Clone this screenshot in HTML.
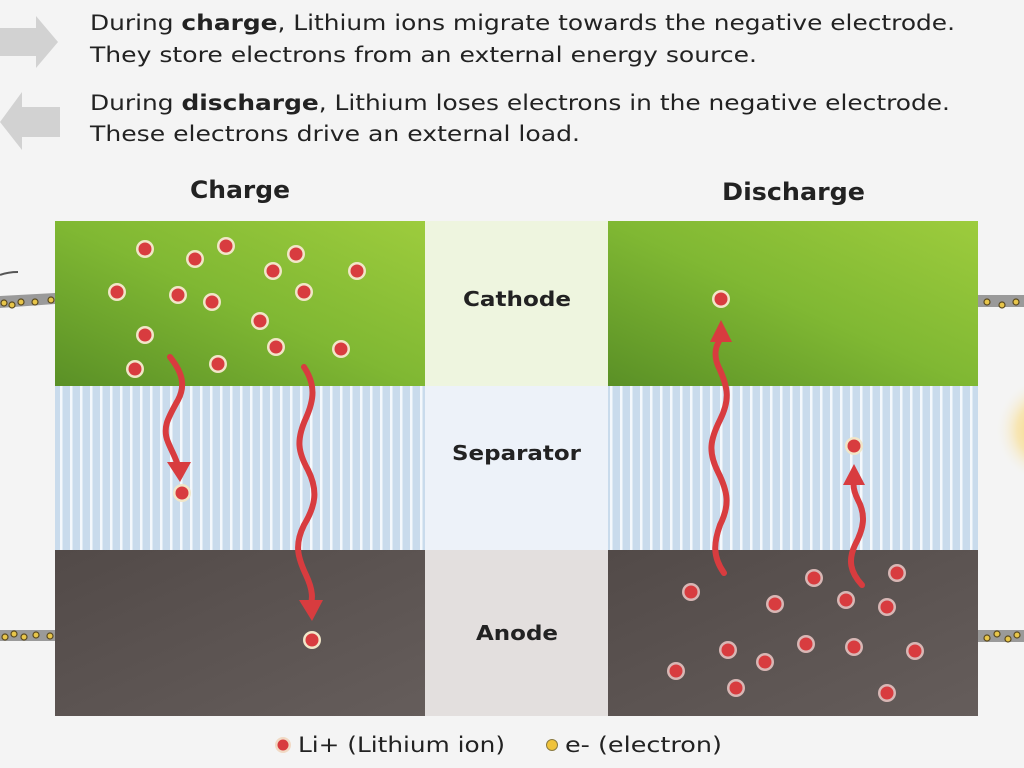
<!DOCTYPE html>
<html><head><style>
html,body{margin:0;padding:0;background:#f4f4f4;}
body{width:1024px;height:768px;overflow:hidden;position:relative;font-family:"DejaVu Sans","Liberation Sans",sans-serif;}
</style></head><body>
<svg width="1024" height="768" viewBox="0 0 1024 768" xmlns="http://www.w3.org/2000/svg" style="position:absolute;left:0;top:0" font-family="DejaVu Sans, Liberation Sans, sans-serif">
<defs>
<linearGradient id="gc" x1="0" y1="1" x2="1" y2="0">
<stop offset="0" stop-color="#5a9026"/><stop offset="0.5" stop-color="#80b833"/><stop offset="1" stop-color="#9dcc3d"/>
</linearGradient>
<linearGradient id="ga" x1="0" y1="0" x2="1" y2="1">
<stop offset="0" stop-color="#524a48"/><stop offset="1" stop-color="#655d5b"/>
</linearGradient>
<pattern id="st" width="10" height="10" patternUnits="userSpaceOnUse">
<rect width="10" height="10" fill="#c9dbec"/><rect x="0" width="2.5" height="10" fill="#f4f8fc"/>
</pattern>
<radialGradient id="sun" cx="0.5" cy="0.5" r="0.5">
<stop offset="0" stop-color="#f7c84a"/><stop offset="0.6" stop-color="#f9dc8a" stop-opacity="0.6"/><stop offset="1" stop-color="#f4f4f4" stop-opacity="0"/>
</radialGradient>
<g id="ion"><circle r="9" fill="#f1e6c8"/><circle r="6.5" fill="#d83c3f"/></g>
<g id="iona"><circle r="9" fill="#d8b7b5"/><circle r="6.5" fill="#d83c3f"/></g>
</defs>

<polygon points="0,28 36,28 36,16 58,42 36,68 36,56 0,56" fill="#d2d2d2"/>
<polygon points="60,107 22,107 22,92 0,122 22,150 22,137 60,137" fill="#d2d2d2"/>

<g font-size="21" fill="#222">
<text x="90" y="30" textLength="865" lengthAdjust="spacingAndGlyphs">During <tspan font-weight="bold">charge</tspan>, Lithium ions migrate towards the negative electrode.</text>
<text x="90" y="62" textLength="667" lengthAdjust="spacingAndGlyphs">They store electrons from an external energy source.</text>
<text x="90" y="110" textLength="860" lengthAdjust="spacingAndGlyphs">During <tspan font-weight="bold">discharge</tspan>, Lithium loses electrons in the negative electrode.</text>
<text x="90" y="141" textLength="490" lengthAdjust="spacingAndGlyphs">These electrons drive an external load.</text>
</g>
<text x="190" y="198" font-size="24" font-weight="bold" fill="#222" textLength="100" lengthAdjust="spacingAndGlyphs">Charge</text>
<text x="722" y="200" font-size="24" font-weight="bold" fill="#222" textLength="143" lengthAdjust="spacingAndGlyphs">Discharge</text>

<circle cx="1050" cy="430" r="55" fill="url(#sun)"/>

<g fill="#9a9a9a">
<path d="M0,296 L55,293 L55,304 L0,308Z"/>
<rect x="0" y="630" width="55" height="11"/>
<rect x="978" y="295" width="46" height="12"/>
<rect x="978" y="630" width="46" height="12"/>
</g>
<path d="M0,275 Q8,272 18,272" stroke="#555" stroke-width="2" fill="none"/>
<g fill="#e8c64a" stroke="#5a4a20" stroke-width="1.2">
<circle cx="4" cy="303" r="3"/><circle cx="12" cy="305" r="3"/><circle cx="21" cy="302" r="3"/><circle cx="35" cy="302" r="3"/><circle cx="51" cy="300" r="3"/>
<circle cx="5" cy="637" r="3"/><circle cx="14" cy="634" r="3"/><circle cx="24" cy="637" r="3"/><circle cx="36" cy="635" r="3"/><circle cx="50" cy="636" r="3"/>
<circle cx="987" cy="302" r="3"/><circle cx="1002" cy="305" r="3"/><circle cx="1016" cy="302" r="3"/>
<circle cx="987" cy="638" r="3"/><circle cx="997" cy="634" r="3"/><circle cx="1008" cy="639" r="3"/><circle cx="1017" cy="635" r="3"/>
</g>

<rect x="425" y="221" width="183" height="165" fill="#eef5df"/>
<rect x="425" y="386" width="183" height="164" fill="#edf2f9"/>
<rect x="425" y="550" width="183" height="166" fill="#e3dfde"/>
<g font-size="20" font-weight="bold" fill="#222">
<text x="463" y="306" textLength="108" lengthAdjust="spacingAndGlyphs">Cathode</text>
<text x="452" y="460" textLength="129" lengthAdjust="spacingAndGlyphs">Separator</text>
<text x="476" y="640" textLength="82" lengthAdjust="spacingAndGlyphs">Anode</text>
</g>

<rect x="55" y="221" width="370" height="165" fill="url(#gc)"/>
<rect x="55" y="386" width="370" height="164" fill="url(#st)"/>
<rect x="55" y="550" width="370" height="166" fill="url(#ga)"/>
<rect x="608" y="221" width="370" height="165" fill="url(#gc)"/>
<rect x="608" y="386" width="370" height="164" fill="url(#st)"/>
<rect x="608" y="550" width="370" height="166" fill="url(#ga)"/>

<g>
<use href="#ion" x="145" y="249"/><use href="#ion" x="195" y="259"/><use href="#ion" x="226" y="246"/><use href="#ion" x="296" y="254"/><use href="#ion" x="273" y="271"/><use href="#ion" x="357" y="271"/>
<use href="#ion" x="117" y="292"/><use href="#ion" x="178" y="295"/><use href="#ion" x="212" y="302"/><use href="#ion" x="304" y="292"/>
<use href="#ion" x="260" y="321"/><use href="#ion" x="145" y="335"/><use href="#ion" x="276" y="347"/><use href="#ion" x="341" y="349"/>
<use href="#ion" x="135" y="369"/><use href="#ion" x="218" y="364"/>
<use href="#ion" x="182" y="493"/><use href="#ion" x="312" y="640"/>
</g>
<use href="#ion" x="721" y="299"/><use href="#ion" x="854" y="446"/>
<g>
<use href="#iona" x="691" y="592"/><use href="#iona" x="814" y="578"/><use href="#iona" x="897" y="573"/>
<use href="#iona" x="775" y="604"/><use href="#iona" x="846" y="600"/><use href="#iona" x="887" y="607"/>
<use href="#iona" x="728" y="650"/><use href="#iona" x="806" y="644"/><use href="#iona" x="854" y="647"/><use href="#iona" x="915" y="651"/>
<use href="#iona" x="676" y="671"/><use href="#iona" x="765" y="662"/><use href="#iona" x="736" y="688"/><use href="#iona" x="887" y="693"/>
</g>

<g stroke="#d83c3f" stroke-width="6" fill="none" stroke-linecap="round">
<path d="M170,357 C182,372 186,385 178,400 C168,418 162,428 168,442 C172,452 176,458 178,466"/>
<path d="M304,367 C316,385 314,400 306,418 C296,440 298,452 308,470 C318,490 316,505 304,525 C294,545 298,558 306,575 C314,592 312,600 311,605"/>
<path d="M724,573 C712,556 714,542 720,525 C730,505 728,492 718,472 C708,452 710,440 720,420 C730,400 728,388 720,370 C712,355 716,345 721,338"/>
<path d="M862,585 C850,572 848,560 855,545 C864,528 866,515 858,500 C853,490 853,484 854,480"/>
</g>
<g fill="#d83c3f">
<polygon points="167,462 191,462 180,482"/>
<polygon points="299,600 323,600 312,621"/>
<polygon points="710,342 732,342 721,320"/>
<polygon points="843,485 865,485 854,464"/>
</g>

<circle cx="283" cy="745" r="8" fill="#f1d9c4"/><circle cx="283" cy="745" r="5.5" fill="#d83c3f"/>
<text x="298" y="752" font-size="21" fill="#222" textLength="207" lengthAdjust="spacingAndGlyphs">Li+ (Lithium ion)</text>
<circle cx="552" cy="745" r="5.5" fill="#f0c33a" stroke="#8a7a40" stroke-width="1"/>
<text x="565" y="752" font-size="21" fill="#222" textLength="157" lengthAdjust="spacingAndGlyphs">e- (electron)</text>
</svg>
</body></html>
